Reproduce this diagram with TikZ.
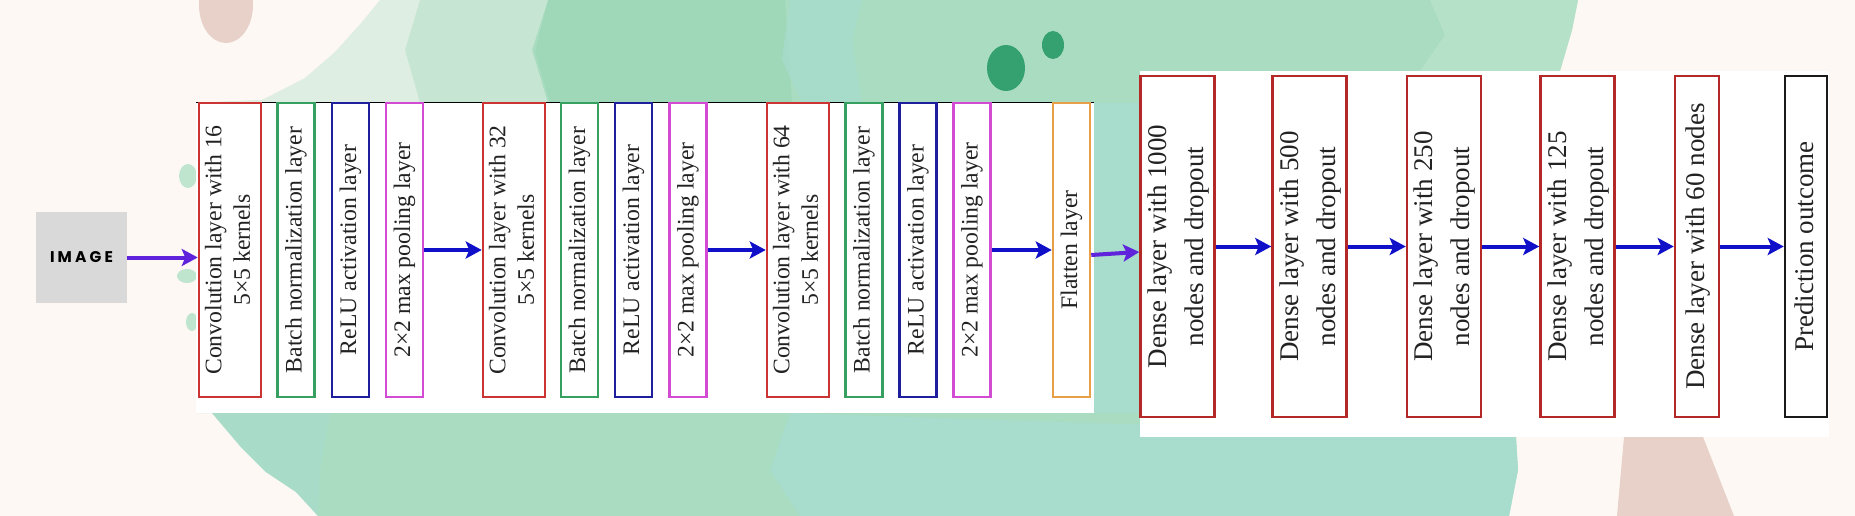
\documentclass[tikz,border=0pt]{standalone}
\usepackage{fontspec}
\setmainfont{Liberation Serif}
\newfontfamily\popfont[LetterSpace=20]{Poppins}
\usepackage{graphicx}
\usetikzlibrary{arrows.meta}

\definecolor{cream}{HTML}{FDF8F4}
\definecolor{gwash}{HTML}{A9DCC1}
\definecolor{gdark}{HTML}{95D3B1}
\definecolor{gteal}{HTML}{A8DDD1}
\definecolor{gpale}{HTML}{BFE5CF}
\definecolor{splat}{HTML}{35A070}
\definecolor{pinkc}{HTML}{E7D1C8}
\definecolor{imgbox}{HTML}{D9D9D9}
\definecolor{textc}{HTML}{222222}
\definecolor{convred}{HTML}{CC3333}
\definecolor{densered}{HTML}{B52828}
\definecolor{bngreen}{HTML}{36A060}
\definecolor{relublue}{HTML}{1F1F9E}
\definecolor{poolmag}{HTML}{D24BD2}
\definecolor{flatorange}{HTML}{E8A048}
\definecolor{predblack}{HTML}{1A1A1A}
\definecolor{arrowblue}{HTML}{1010C8}
\definecolor{arrowpurple}{HTML}{5F23DC}

\newcommand\myvl[1]{\rotatebox{90}{\fontsize{23.7pt}{28.5pt}\selectfont\begin{tabular}{@{}c@{}}#1\end{tabular}}}
\newcommand\myvr[1]{\rotatebox{90}{\fontsize{27pt}{37pt}\selectfont\begin{tabular}{@{}c@{}}#1\end{tabular}}}

\begin{document}
\begin{tikzpicture}[x=1pt,y=-1pt,
  layerbox/.style={draw, line width=2.5pt, fill=white, inner sep=0pt, text=textc, anchor=center},
  leftbox/.style={layerbox, minimum height=294pt},
  rightbox/.style={layerbox, minimum height=341pt},
  wide/.style={minimum width=62pt},
  narrow/.style={minimum width=37pt},
  dwide/.style={minimum width=71pt},
  convb/.style={leftbox, wide, draw=convred},
  bnb/.style={leftbox, narrow, draw=bngreen},
  relub/.style={leftbox, narrow, draw=relublue},
  poolb/.style={leftbox, narrow, draw=poolmag},
  flatb/.style={leftbox, narrow, draw=flatorange},
  denseb/.style={rightbox, draw=densered},
  predb/.style={rightbox, minimum width=42pt, draw=predblack},
  barrow/.style={draw=arrowblue, line width=4pt, -{Stealth[length=16pt,width=17pt,inset=3.5pt]}},
  parrow/.style={draw=arrowpurple, line width=4pt, -{Stealth[length=16pt,width=17pt,inset=3.5pt]}}
]
\useasboundingbox (0,0) rectangle (1855,516);

% ---------- background ----------
\begin{scope}
\clip (0,0) rectangle (1855,516);
\fill[cream] (0,0) rectangle (1855,516);
% main watercolour wash
\fill[gwash] (380,0) -- (1578,0) -- (1572,30) -- (1560,71) -- (1540,250) -- (1516,437)
  -- (1518,470) -- (1509,516) -- (318,516) -- (296,492) -- (266,472) -- (240,446)
  -- (212,413) -- (196,413) -- (196,103) -- (262,100) -- (305,78) -- (335,52) -- (362,22) -- cycle;
% faded top-left
\fill[cream, opacity=0.65] (370,0) -- (420,0) -- (405,50) -- (420,103) -- (196,103) -- (262,100) -- (310,70) -- cycle;
\fill[cream, opacity=0.35] (420,0) -- (548,0) -- (532,50) -- (548,103) -- (420,103) -- (405,50) -- cycle;
% darker band
\fill[gdark, opacity=0.45] (548,0) -- (785,0) -- (792,103) -- (550,103) -- (535,52) -- cycle;
% teal streak
\fill[gteal, opacity=0.6] (790,0) -- (862,0) -- (852,40) -- (862,103) -- (802,103) -- (782,60) -- cycle;
% pale top right
\fill[gpale, opacity=0.6] (1430,0) -- (1578,0) -- (1572,30) -- (1560,71) -- (1420,71) -- (1445,35) -- cycle;
% teal between panels and bottom right
\fill[gteal, opacity=0.8] (1094,103) rectangle (1142,413);
\fill[gteal, opacity=0.8] (790,413) -- (1516,437) -- (1518,470) -- (1509,516) -- (800,516) -- (770,470) -- cycle;
\fill[gteal, opacity=0.5] (212,413) -- (330,413) -- (320,470) -- (318,516) -- (296,492) -- (266,472) -- (240,446) -- cycle;
% small splashes left of panel
\fill[gpale] (188,176) ellipse [x radius=9, y radius=12];
\fill[gpale] (187,276) ellipse [x radius=10, y radius=7];
\fill[gpale] (192,322) ellipse [x radius=6, y radius=9];
% dark splatters
\fill[splat] (1006,68) ellipse [x radius=19, y radius=23];
\fill[splat] (1053,45) ellipse [x radius=11, y radius=14];
% pink shapes
\fill[pinkc] (226,5) ellipse [x radius=27, y radius=38];
\fill[pinkc] (1624,437) -- (1703,437) .. controls (1716,470) .. (1734,516) -- (1617,516) -- cycle;
\end{scope}

% ---------- panels ----------
\fill[white] (196,103) rectangle (1094,413);
\draw[black, line width=1.3pt] (196,102.5) -- (1094,102.5);
\fill[white] (1140,71) rectangle (1829,437);

% ---------- input ----------
\node[fill=imgbox, minimum width=91pt, minimum height=91pt, inner sep=0pt, text=black]
  (img) at (81.5,257.5) {\popfont\bfseries\fontsize{15.5pt}{18pt}\selectfont IMAGE};

% ---------- left stage ----------
\node[convb] (c1) at (230,250) {\myvl{Convolution layer with 16\\5×5 kernels}};
\node[bnb]   (b1) at (296,250) {\myvl{Batch normalization layer}};
\node[relub] (r1) at (350.5,250) {\myvl{ReLU activation layer}};
\node[poolb] (p1) at (404.5,250) {\myvl{2×2 max pooling layer}};
\node[convb] (c2) at (514,250) {\myvl{Convolution layer with 32\\5×5 kernels}};
\node[bnb]   (b2) at (579.5,250) {\myvl{Batch normalization layer}};
\node[relub] (r2) at (633.5,250) {\myvl{ReLU activation layer}};
\node[poolb] (p2) at (688,250) {\myvl{2×2 max pooling layer}};
\node[convb] (c3) at (798,250) {\myvl{Convolution layer with 64\\5×5 kernels}};
\node[bnb]   (b3) at (864,250) {\myvl{Batch normalization layer}};
\node[relub] (r3) at (918,250) {\myvl{ReLU activation layer}};
\node[poolb] (p3) at (972,250) {\myvl{2×2 max pooling layer}};
\node[flatb] (fl) at (1071.5,250) {\myvl{Flatten layer}};

% ---------- right stage ----------
\node[denseb, dwide] (d1) at (1177.5,246.5) {\myvr{Dense layer with 1000\\nodes and dropout}};
\node[denseb, dwide] (d2) at (1309.5,246.5) {\myvr{Dense layer with 500\\nodes and dropout}};
\node[denseb, dwide] (d3) at (1444,246.5) {\myvr{Dense layer with 250\\nodes and dropout}};
\node[denseb, dwide] (d4) at (1577.5,246.5) {\myvr{Dense layer with 125\\nodes and dropout}};
\node[denseb, minimum width=44pt] (d5) at (1697,246.5) {\myvr{Dense layer with 60 nodes}};
\node[predb] (pr) at (1806,246.5) {\myvr{Prediction outcome}};

% ---------- connectors ----------
\draw[parrow] (img.east) -- (img.east -| c1.west);
\draw[barrow] (p1.east) -- (c2.west);
\draw[barrow] (p2.east) -- (c3.west);
\draw[barrow] (p3.east) -- (fl.west);
\draw[parrow] ([yshift=-5pt]fl.east) -- ([yshift=-5.5pt]d1.west);
\draw[barrow] (d1.east) -- (d2.west);
\draw[barrow] (d2.east) -- (d3.west);
\draw[barrow] (d3.east) -- (d4.west);
\draw[barrow] (d4.east) -- (d5.west);
\draw[barrow] (d5.east) -- (pr.west);
\end{tikzpicture}
\end{document}
